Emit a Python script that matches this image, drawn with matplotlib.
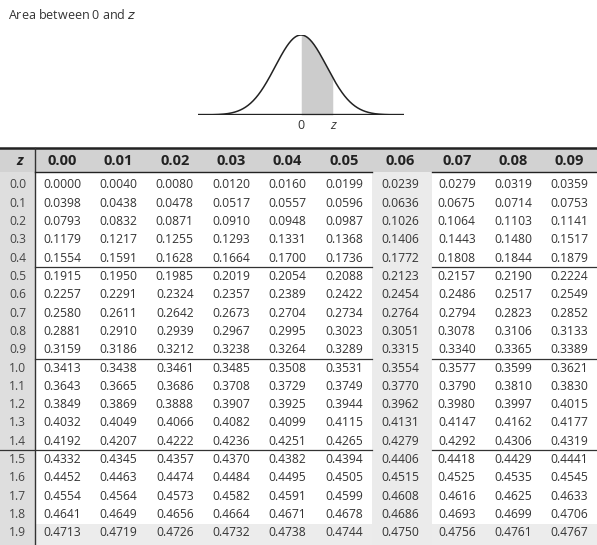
import numpy as np
import matplotlib
matplotlib.use("Agg")
import matplotlib.pyplot as plt
from matplotlib.patches import Rectangle

# ---- table data ----
z_rows = [0.0, 0.1, 0.2, 0.3, 0.4, 0.5, 0.6, 0.7, 0.8, 0.9,
          1.0, 1.1, 1.2, 1.3, 1.4, 1.5, 1.6, 1.7, 1.8, 1.9]
z_cols = [0.00, 0.01, 0.02, 0.03, 0.04, 0.05, 0.06, 0.07, 0.08, 0.09]
areas = [
    [0.0000, 0.0040, 0.0080, 0.0120, 0.0160, 0.0199, 0.0239, 0.0279, 0.0319, 0.0359],
    [0.0398, 0.0438, 0.0478, 0.0517, 0.0557, 0.0596, 0.0636, 0.0675, 0.0714, 0.0753],
    [0.0793, 0.0832, 0.0871, 0.0910, 0.0948, 0.0987, 0.1026, 0.1064, 0.1103, 0.1141],
    [0.1179, 0.1217, 0.1255, 0.1293, 0.1331, 0.1368, 0.1406, 0.1443, 0.1480, 0.1517],
    [0.1554, 0.1591, 0.1628, 0.1664, 0.1700, 0.1736, 0.1772, 0.1808, 0.1844, 0.1879],
    [0.1915, 0.1950, 0.1985, 0.2019, 0.2054, 0.2088, 0.2123, 0.2157, 0.2190, 0.2224],
    [0.2257, 0.2291, 0.2324, 0.2357, 0.2389, 0.2422, 0.2454, 0.2486, 0.2517, 0.2549],
    [0.2580, 0.2611, 0.2642, 0.2673, 0.2704, 0.2734, 0.2764, 0.2794, 0.2823, 0.2852],
    [0.2881, 0.2910, 0.2939, 0.2967, 0.2995, 0.3023, 0.3051, 0.3078, 0.3106, 0.3133],
    [0.3159, 0.3186, 0.3212, 0.3238, 0.3264, 0.3289, 0.3315, 0.3340, 0.3365, 0.3389],
    [0.3413, 0.3438, 0.3461, 0.3485, 0.3508, 0.3531, 0.3554, 0.3577, 0.3599, 0.3621],
    [0.3643, 0.3665, 0.3686, 0.3708, 0.3729, 0.3749, 0.3770, 0.3790, 0.3810, 0.3830],
    [0.3849, 0.3869, 0.3888, 0.3907, 0.3925, 0.3944, 0.3962, 0.3980, 0.3997, 0.4015],
    [0.4032, 0.4049, 0.4066, 0.4082, 0.4099, 0.4115, 0.4131, 0.4147, 0.4162, 0.4177],
    [0.4192, 0.4207, 0.4222, 0.4236, 0.4251, 0.4265, 0.4279, 0.4292, 0.4306, 0.4319],
    [0.4332, 0.4345, 0.4357, 0.4370, 0.4382, 0.4394, 0.4406, 0.4418, 0.4429, 0.4441],
    [0.4452, 0.4463, 0.4474, 0.4484, 0.4495, 0.4505, 0.4515, 0.4525, 0.4535, 0.4545],
    [0.4554, 0.4564, 0.4573, 0.4582, 0.4591, 0.4599, 0.4608, 0.4616, 0.4625, 0.4633],
    [0.4641, 0.4649, 0.4656, 0.4664, 0.4671, 0.4678, 0.4686, 0.4693, 0.4699, 0.4706],
    [0.4713, 0.4719, 0.4726, 0.4732, 0.4738, 0.4744, 0.4750, 0.4756, 0.4761, 0.4767],
]
shaded_col = 0.06   # column with grey background
z_shown = 1.25      # where "z" sits on the sketch (in sd units)

plt.rcParams['font.family'] = ['Open Sans', 'DejaVu Sans']

W, H = 597, 545
fig = plt.figure(figsize=(W / 100, H / 100), dpi=100)

# whole-figure axes in pixel units (y down) for the table
ax = fig.add_axes([0, 0, 1, 1])
ax.set_xlim(0, W)
ax.set_ylim(H, 0)
ax.axis('off')

ax.text(8, 15, "Area between 0 and $z$", fontsize=9, color='#333333',
        ha='left', va='center')

# table geometry (pixels)
top = 148
head_bot = 172
row0 = 185
row_h = 18.3
zcol_w = 35
col0 = 62
col_w = 56.4
text_col = '#333333'

# backgrounds
ax.add_patch(Rectangle((0, top), W, head_bot - top, color='#d2d2d2', lw=0))
ax.add_patch(Rectangle((0, head_bot), zcol_w, H - head_bot, color='#dedede', lw=0))
sj = z_cols.index(shaded_col)
sx0 = col0 + sj * col_w - 28
ax.add_patch(Rectangle((sx0, head_bot), 60, H - head_bot, color='#ebebeb', lw=0))
last_y = row0 + (len(z_rows) - 1) * row_h - row_h / 2
ax.add_patch(Rectangle((zcol_w, last_y), W - zcol_w, H - last_y, color='#ececec', lw=0, zorder=0.5))

# lines
ax.plot([0, W], [top, top], color='#222222', lw=1.8)
ax.plot([zcol_w, zcol_w], [top, H], color='#333333', lw=1.0)
ax.plot([zcol_w, sx0], [head_bot, head_bot], color='#222222', lw=1.0)
ax.plot([sx0 + 60, W], [head_bot, head_bot], color='#222222', lw=1.0)
for i in (4, 9, 14):
    yl = row0 + (i + 0.5) * row_h
    x_start = 0 if i == 14 else zcol_w
    ax.plot([x_start, sx0], [yl, yl], color='#333333', lw=0.9)
    ax.plot([sx0 + 60, W], [yl, yl], color='#333333', lw=0.9)

# header
ax.text(zcol_w / 2 + 2, (top + head_bot) / 2 + 1, "z", fontsize=10.5, fontweight='bold',
        fontstyle='italic', color='#222222', ha='center', va='center')
for j, c in enumerate(z_cols):
    ax.text(col0 + j * col_w, (top + head_bot) / 2 + 1, f"{c:.2f}", fontsize=10.5,
            fontweight='bold', color='#222222', ha='center', va='center')

# body
for i, zr in enumerate(z_rows):
    y = row0 + i * row_h
    ax.text(zcol_w / 2, y, f"{zr:.1f}", fontsize=8.7, color='#444444',
            ha='center', va='center')
    for j, v in enumerate(areas[i]):
        ax.text(col0 + j * col_w, y, f"{v:.4f}", fontsize=8.7, color=text_col,
                ha='center', va='center')

# ---- normal curve sketch ----
cx0, cx1, peak_y, base_y = 198, 404, 35, 115
ax2 = fig.add_axes([cx0 / W, 1 - base_y / H, (cx1 - cx0) / W, (base_y - peak_y) / H])
xs = np.linspace(-4, 4, 400)
pdf = np.exp(-xs ** 2 / 2) / np.sqrt(2 * np.pi)
ax2.plot(xs, pdf, color='#222222', lw=1.1)
m = (xs >= 0) & (xs <= z_shown)
ax2.fill_between(xs[m], 0, pdf[m], color='#cccccc', lw=0)
ax2.axhline(0, color='#222222', lw=1.7)
ax2.set_xlim(-4, 4)
ax2.set_ylim(0, pdf.max())
ax2.axis('off')
ax2.text(0, -0.022, "0", fontsize=9, color='#333333', ha='center', va='top')
ax2.text(z_shown, -0.022, "z", fontsize=9.5, fontstyle='italic', color='#333333',
         ha='center', va='top')

fig.savefig("out.png", dpi=100)
